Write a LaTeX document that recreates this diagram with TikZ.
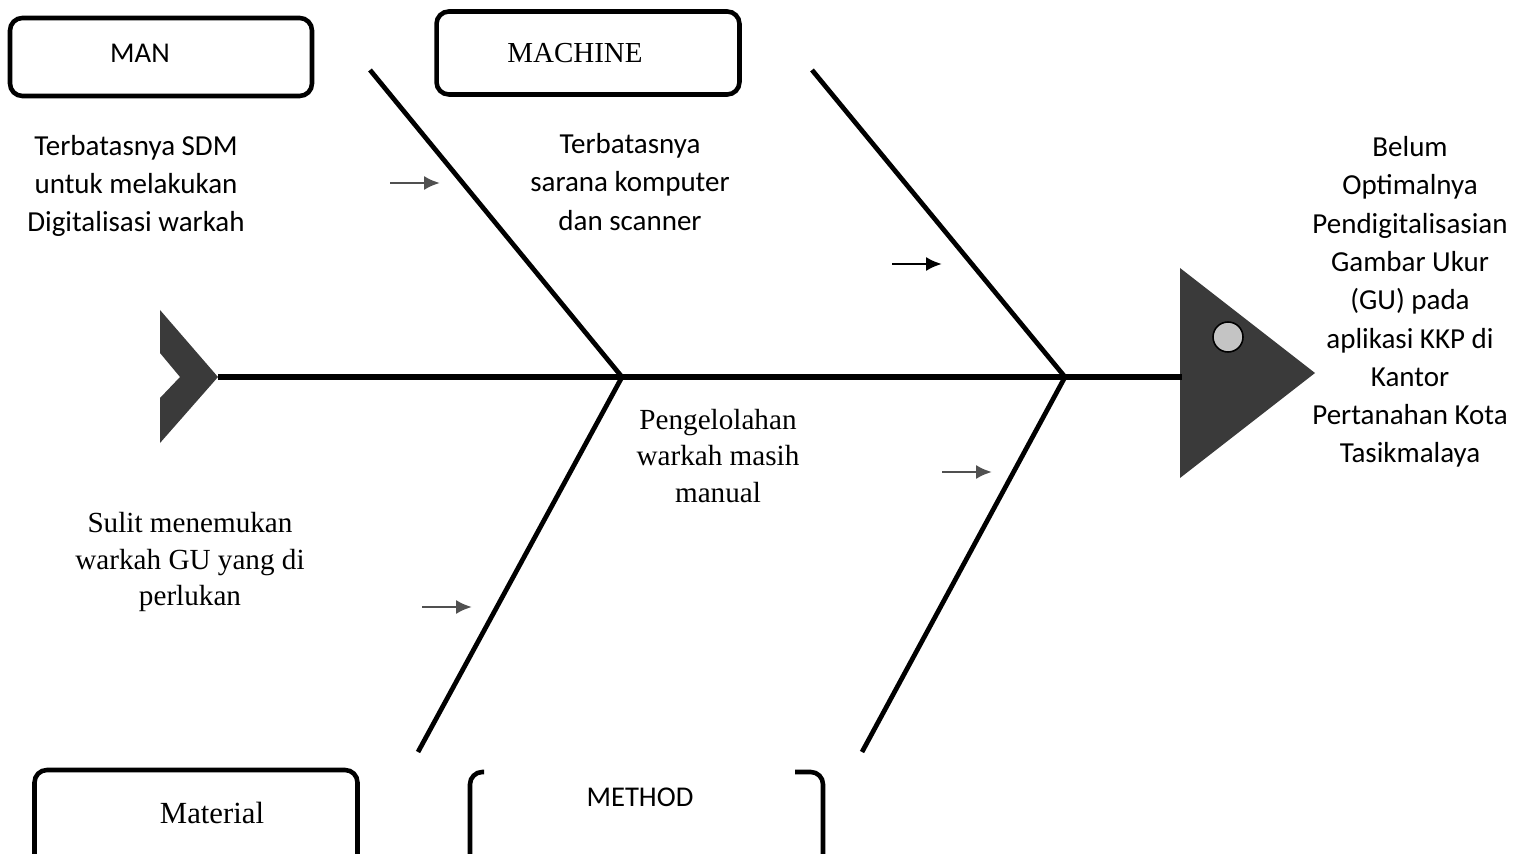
\documentclass[tikz,border=0pt]{standalone}
\usepackage{fontspec}
\setmainfont{Liberation Serif}
\newfontfamily\carlito{Carlito}
\usetikzlibrary{arrows.meta}
\definecolor{fishgray}{HTML}{3A3A3A}
\definecolor{dotgray}{HTML}{C4C4C4}
\definecolor{tipgray}{HTML}{505050}

\begin{document}
\begin{tikzpicture}[x=0.02cm, y=-0.02cm,
    bone/.style={line width=2.7pt},
    catbox/.style={draw, line width=2.6pt, rounded corners=7pt, inner sep=0pt},
    cause/.style={align=center, font=\carlito\fontsize{16.5}{21.8}\selectfont},
    causeserif/.style={align=center, font=\fontsize{16.6}{21}\selectfont},
    hint/.style={-{Latex[length=9pt,width=8pt]}, line width=1.6pt, draw=tipgray}]
    \clip (0,0) rectangle (1527,854);

    % spine, tail and head
    \coordinate (tail) at (218,377);
    \coordinate (head) at (1182,377);
    \coordinate (j1) at (622,377);
    \coordinate (j2) at (1065,377);
    \fill[fishgray] (160,310) -- (tail) -- (160,443) -- (160,398) -- (180,377) -- (160,353) -- cycle;
    \fill[fishgray] (1180,268) -- (1315,373) -- (1180,478) -- cycle;
    \draw[line width=0.9pt, fill=dotgray] (1228,337) circle[radius=15];
    \draw[line width=3.3pt] (tail) -- (j1) -- (j2) -- (head);

    % bones
    \coordinate (manend) at (370,70);
    \coordinate (machend) at (812,70);
    \coordinate (matend) at (418,752);
    \coordinate (methend) at (862,752);
    \draw[bone] (manend) -- (j1);
    \draw[bone] (machend) -- (j2);
    \draw[bone] (j1) -- (matend);
    \draw[bone] (j2) -- (methend);

    % category boxes
    \node[catbox, minimum width=6.04cm, minimum height=1.56cm] (manbox) at (161,57) {};
    \node[catbox, minimum width=6.06cm, minimum height=1.66cm] (machbox) at (588,53) {};
    \node[catbox, minimum width=6.46cm, minimum height=2.2cm] (matbox) at (196,825) {};
    \draw[line width=2.6pt, rounded corners=7pt] (484,772) -- (470,772) -- (470,870);
    \draw[line width=2.6pt, rounded corners=7pt] (795,772) -- (823,772) -- (823,870);

    \node[font=\carlito\fontsize{16.3}{20}\selectfont] (man) at (140,53) {MAN};
    \node[font=\fontsize{16.5}{20}\selectfont] (machine) at (575,53) {MACHINE};
    \node[font=\fontsize{17.5}{20}\selectfont] (material) at (212,813) {Material};
    \node[font=\carlito\fontsize{16.3}{20}\selectfont] (method) at (640,797) {METHOD};

    % causes
    \node[cause] (sdm) at (136,186) {Terbatasnya SDM\\untuk melakukan\\Digitalisasi warkah};
    \node[cause] (sarana) at (630,182) {Terbatasnya\\sarana komputer\\dan scanner};
    \node[causeserif] (kelola) at (718,456) {Pengelolahan\\warkah masih\\manual};
    \node[causeserif] (sulit) at (190,562) {Sulit menemukan\\warkah GU yang di\\perlukan};
    \node[cause] (effect) at (1410,302) {Belum\\Optimalnya\\Pendigitalisasian\\Gambar Ukur\\(GU) pada\\aplikasi KKP di\\Kantor\\Pertanahan Kota\\Tasikmalaya};

    % small arrows
    \coordinate (a1) at (390,183);  \coordinate (b1) at (440,183);
    \coordinate (a2) at (892,264);  \coordinate (b2) at (942,264);
    \coordinate (a3) at (942,472);  \coordinate (b3) at (992,472);
    \coordinate (a4) at (422,607);  \coordinate (b4) at (472,607);
    \draw[hint] (a1) -- (b1);
    \draw[hint, draw=black] (a2) -- (b2);
    \draw[hint] (a3) -- (b3);
    \draw[hint] (a4) -- (b4);
\end{tikzpicture}
\end{document}
